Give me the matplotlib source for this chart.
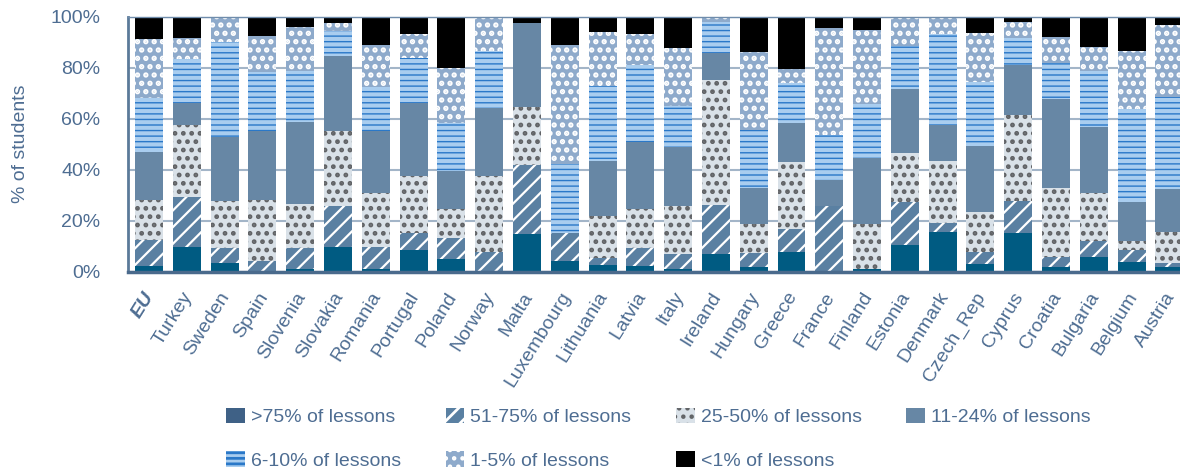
import matplotlib
matplotlib.use("Agg")
import matplotlib.pyplot as plt
from matplotlib.patches import Patch
import numpy as np

countries = ["EU", "Turkey", "Sweden", "Spain", "Slovenia", "Slovakia", "Romania",
             "Portugal", "Poland", "Norway", "Malta", "Luxembourg", "Lithuania", "Latvia",
             "Italy", "Ireland", "Hungary", "Greece", "France", "Finland", "Estonia",
             "Denmark", "Czech_Rep", "Cyprus", "Croatia", "Bulgaria", "Belgium", "Austria"]

# % of students, stacked from the bottom up
gt75 = [2.2, 9.8, 3.5, 0, 1.2, 9.8, 0.9, 8.5, 5.0, 0, 14.8, 4.2, 2.4, 2.2,
        1.0, 6.9, 1.8, 7.8, 0, 1.2, 10.5, 15.7, 3.0, 15.3, 1.8, 5.9, 3.8, 2.0]
p51_75 = [10.2, 19.6, 5.7, 4.3, 8.2, 16.1, 8.9, 6.8, 8.3, 7.8, 27.0, 11.1, 3.1, 7.2,
          5.9, 19.2, 5.4, 8.9, 25.9, 0, 17.0, 3.5, 4.6, 12.4, 4.1, 6.1, 4.7, 1.5]
p25_50 = [15.7, 28.1, 18.6, 23.8, 17.1, 29.3, 20.9, 22.3, 11.3, 29.8, 22.6, 0, 16.3, 15.2,
          19.0, 49.1, 11.5, 26.4, 0, 17.5, 18.9, 24.2, 15.9, 33.7, 27.0, 19.0, 3.7, 11.9]
p11_24 = [18.8, 8.8, 25.1, 27.2, 32.3, 29.5, 24.5, 28.4, 14.9, 26.5, 33.0, 0, 21.7, 26.4,
          22.9, 10.4, 14.0, 15.3, 10.0, 26.0, 25.1, 14.1, 25.8, 19.6, 34.8, 25.9, 15.3, 17.0]
p6_10 = [21.1, 17.1, 37.3, 23.1, 20.0, 9.7, 17.3, 17.7, 18.7, 22.4, 0, 26.9, 29.3, 30.0,
         16.3, 12.4, 22.9, 15.5, 17.7, 21.1, 17.1, 35.7, 25.2, 10.8, 14.3, 21.8, 36.3, 36.2]
p1_5 = [23.2, 8.4, 9.8, 14.1, 17.3, 3.2, 16.4, 9.5, 21.5, 13.5, 0, 46.7, 21.1, 12.2,
        22.5, 2.0, 30.7, 5.6, 42.1, 29.0, 11.4, 6.8, 19.2, 6.0, 10.2, 9.5, 22.9, 28.1]
lt1 = [8.8, 8.2, 0, 7.5, 3.9, 2.4, 11.1, 6.8, 20.3, 0, 2.6, 11.1, 6.1, 6.8,
       12.4, 0, 13.7, 20.5, 4.3, 5.2, 0, 0, 6.3, 2.2, 7.8, 11.8, 13.3, 3.3]

labels = [">75% of lessons", "51-75% of lessons", "25-50% of lessons", "11-24% of lessons",
          "6-10% of lessons", "1-5% of lessons", "<1% of lessons"]
series = [gt75, p51_75, p25_50, p11_24, p6_10, p1_5, lt1]

# face colour, hatch colour, hatch, hatch linewidth, legend face
styles = [
    ("#005b82", "#005b82", None, 1.0, "#3f6186"),
    ("#5a80a2", "#ffffff", "//", 1.6, "#5a80a2"),
    ("#d9e1e8", "#616366", "..", 2.2, "#d9e1e8"),
    ("#6787a5", "#6787a5", None, 1.0, "#6787a5"),
    ("#a9cdef", "#2a78c8", "---", 1.0, "#a9cdef"),
    ("#8eaacb", "#ffffff", "..", 2.6, "#8eaacb"),
    ("#000000", "#000000", None, 1.0, "#000000"),
]

plt.rcParams['font.family'] = ['Liberation Sans', 'DejaVu Sans']
txt = "#4e6d92"
fs = 14

fig = plt.figure(figsize=(11.8, 4.7), dpi=100)
ax = fig.add_axes([0.1085, 0.4221, 0.8915, 0.5424])

x = np.arange(len(countries))
bottom = np.zeros(len(countries))
handles = []
for vals, lab, (face, hc, hatch, hlw, lface) in zip(series, labels, styles):
    with plt.rc_context({'hatch.linewidth': hlw}):
        bc = ax.bar(x, vals, 0.74, bottom=bottom, color=face, edgecolor=hc,
                    linewidth=0, hatch=hatch, zorder=2)
        h = Patch(facecolor=lface, edgecolor=hc, linewidth=0, hatch=hatch, label=lab)
        for p in list(bc) + [h]:
            if hasattr(p, "set_hatch_linewidth"):
                p.set_hatch_linewidth(hlw)
    handles.append(h)
    bottom += np.array(vals)

ax.set_xlim(-0.555, 27.28)
ax.set_ylim(0, 100)
ax.set_yticks(np.arange(0, 101, 20))
ax.set_yticklabels([f"{v}%" for v in range(0, 101, 20)])
ax.tick_params(axis='y', length=0, pad=20, labelsize=fs, labelcolor=txt)
ax.set_xticks(x)
ax.set_xticklabels(countries, rotation=58, ha='right', va='center_baseline',
                   rotation_mode='anchor')
ax.tick_params(axis='x', length=0, pad=15, labelsize=fs, labelcolor=txt)
xl = ax.get_xticklabels()[0]
xl.set_fontweight('bold')
xl.set_fontstyle('italic')

ax.set_ylabel("% of students", fontsize=fs, color=txt, labelpad=15)
ax.yaxis.grid(True, color="#a3b5c8", linewidth=1.5)
ax.set_axisbelow(True)

ax.spines['right'].set_visible(False)
ax.spines['left'].set_color("#5b7a99")
ax.spines['left'].set_linewidth(2)
ax.spines['bottom'].set_color("#4a6a8c")
ax.spines['bottom'].set_linewidth(2.5)
ax.spines['top'].set_color("#6f8cab")
ax.spines['top'].set_linewidth(1)

order = [0, 4, 1, 5, 2, 6, 3]
with plt.rc_context({'hatch.linewidth': 2.0}):
    leg = fig.legend([handles[i] for i in order], [labels[i] for i in order],
                     loc='lower left', bbox_to_anchor=(0.1915, 0.0), ncol=4,
                     frameon=False, fontsize=fs, labelcolor=txt, handlelength=0.97,
                     handleheight=0.87, handletextpad=0.3, columnspacing=2.3,
                     labelspacing=1.3, borderpad=0, borderaxespad=0)

fig.savefig("out.png", dpi=100)
